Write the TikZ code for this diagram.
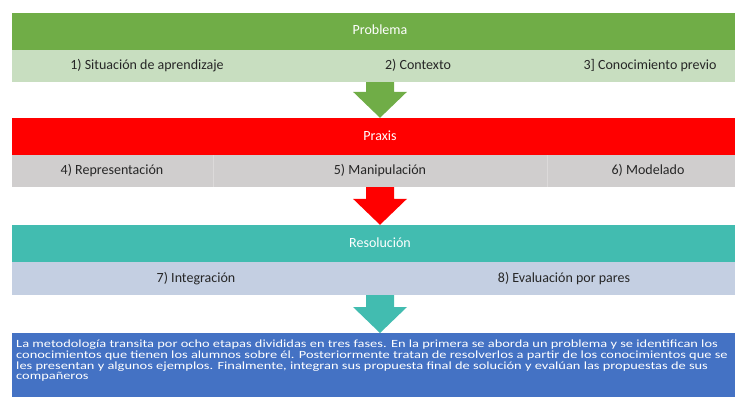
\documentclass[tikz,border=0pt]{standalone}
\usepackage{fontspec}
\setmainfont{Carlito}
\newfontfamily\cuerpo[FakeStretch=1.31]{Carlito}
\usetikzlibrary{calc}
\definecolor{verde}{RGB}{112,173,71}
\definecolor{verdeclaro}{RGB}{200,222,192}
\definecolor{rojo}{RGB}{255,0,0}
\definecolor{gris}{RGB}{208,206,206}
\definecolor{turq}{RGB}{66,188,176}
\definecolor{azulclaro}{RGB}{196,207,226}
\definecolor{azul}{RGB}{68,114,196}
\definecolor{texto}{RGB}{38,38,38}

\begin{document}
\begin{tikzpicture}[x=1pt,y=-1pt,
  banda/.style={minimum width=736pt,minimum height=37pt,inner sep=0pt,text=white,
    text height=10pt,text depth=3pt,font=\fontsize{14}{16}\selectfont},
  fila/.style={minimum width=736pt,minimum height=32pt,inner sep=0pt},
  etiq/.style={text=texto,text height=10pt,text depth=3pt,font=\fontsize{14}{16}\selectfont}]
\useasboundingbox (0,0) rectangle (735,396);
\clip (0,0) rectangle (735,396);
% fase 1
\node[banda,fill=verde] (prob) at (380,31.5) {Problema};
\node[fila,fill=verdeclaro] (row1) at (380,66) {};
\node[etiq] (e1) at (147,66) {1) Situación de aprendizaje};
\node[etiq] (e2) at (418,66) {2) Contexto};
\node[etiq] (e3) at (650,66) {3] Conocimiento previo};
% fase 2
\node[banda,fill=rojo] (prax) at (380,136.5) {Praxis};
\node[fila,fill=gris] (row2) at (380,171) {};
\draw[white!25!gris,line width=1pt] (213,155) -- (213,187) (547,155) -- (547,187);
\node[etiq] (e4) at (112,171) {4) Representación};
\node[etiq] (e5) at (380,171) {5) Manipulación};
\node[etiq] (e6) at (648,171) {6) Modelado};
% fase 3
\node[banda,fill=turq] (reso) at (380,243.5) {Resolución};
\node[fila,fill=azulclaro,minimum height=33pt] (row3) at (380,278.5) {};
\node[etiq] (e7) at (196,278.5) {7) Integración};
\node[etiq] (e8) at (564,278.5) {8) Evaluación por pares};
% resumen
\node[fill=azul,minimum width=736pt,minimum height=70pt,inner sep=0pt,anchor=north] (body) at (380,333) {};
\node[anchor=north west,align=left,inner sep=0pt,text=white,font=\cuerpo\fontsize{11}{10.6}\selectfont] (txt) at (16,340)
  {La metodología transita por ocho etapas divididas en tres fases. En la primera se aborda un problema y se identifican los\\
   conocimientos que tienen los alumnos sobre él. Posteriormente tratan de resolverlos a partir de los conocimientos que se\\
   les presentan y algunos ejemplos. Finalmente, integran sus propuesta final de solución y evalúan las propuestas de sus\\
   compañeros};
% flechas
\foreach \a/\b/\c in {row1/prax/verde, row2/reso/rojo, row3/body/turq}
  \fill[\c] ($(\a.south)+(-14,0)$) -- ($(\a.south)+(14,0)$) -- ($(\b.north)+(14,-26)$) -- ($(\b.north)+(27,-26)$)
    -- (\b.north) -- ($(\b.north)+(-27,-26)$) -- ($(\b.north)+(-14,-26)$) -- cycle;
\end{tikzpicture}
\end{document}
